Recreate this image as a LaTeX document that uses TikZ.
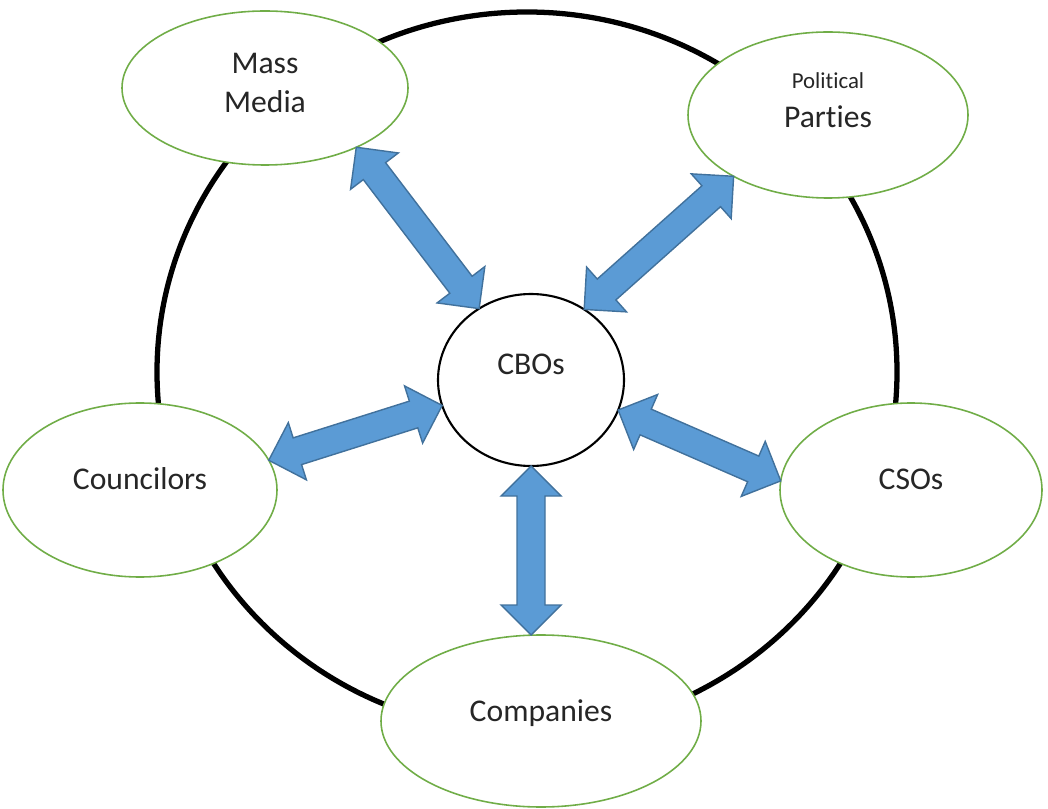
\documentclass[tikz,border=0pt]{standalone}
\usepackage{fontspec}
\setmainfont{Carlito}[Ligatures=NoCommon]
\usetikzlibrary{shapes.geometric,calc}

\definecolor{leafgreen}{HTML}{70AD47}
\definecolor{linkblue}{HTML}{5B9BD5}
\definecolor{linkedge}{HTML}{41719C}

% broad two-headed block arrow between two points
\newcommand{\twoway}[2]{%
  \coordinate (h1) at ($(#1)!0.6cm!(#2)$);
  \coordinate (h2) at ($(#2)!0.6cm!(#1)$);
  \filldraw[link] (#1) -- ($(h1)!0.6cm!90:(#2)$) -- ($(h1)!0.28cm!90:(#2)$)
    -- ($(h2)!0.28cm!-90:(#1)$) -- ($(h2)!0.6cm!-90:(#1)$) -- (#2)
    -- ($(h2)!0.6cm!90:(#1)$) -- ($(h2)!0.28cm!90:(#1)$)
    -- ($(h1)!0.28cm!-90:(#2)$) -- ($(h1)!0.6cm!-90:(#2)$) -- cycle;}

\begin{document}
\begin{tikzpicture}[
  ring/.style={ellipse, draw, line width=3pt, minimum width=14.8cm, minimum height=14.4cm},
  actor/.style={ellipse, draw=leafgreen, line width=0.9pt, fill=white, inner sep=0pt,
    outer sep=0pt, text=black!85, align=center, font=\fontsize{18}{22}\selectfont},
  oneline/.style={text height=12pt, text depth=12pt},
  hub/.style={ellipse, draw, line width=1.2pt, fill=white, inner sep=0pt, outer sep=0pt,
    text=black!85, font=\fontsize{18}{22}\selectfont, text height=12pt, text depth=18pt},
  link/.style={fill=linkblue, draw=linkedge, line width=0.8pt, line join=miter}]
\useasboundingbox (0,0) rectangle (20.96,16.16);

\node[ring] (ring) at (10.54,8.72) {};

\node[hub, minimum width=3.72cm, minimum height=3.44cm] (cbo) at (10.62,8.56) {CBOs};

\node[actor, minimum width=5.72cm, minimum height=3.08cm, text depth=6pt]
  (media) at (5.30,14.40) {Mass\\Media};
\node[actor, minimum width=5.60cm, minimum height=3.32cm, text depth=17pt]
  (parties) at (16.56,13.86) {{\fontsize{13}{15}\selectfont Political}\\Parties};
\node[actor, oneline, minimum width=5.48cm, minimum height=3.48cm]
  (councilors) at (2.80,6.36) {Councilors};
\node[actor, oneline, minimum width=5.24cm, minimum height=3.48cm]
  (csos) at (18.22,6.36) {CSOs};
\node[actor, oneline, minimum width=6.40cm, minimum height=3.44cm]
  (companies) at (10.82,1.74) {Companies};

\coordinate (comptop) at (companies.north -| cbo.south);

\twoway{media.-33}{cbo.126}
\twoway{parties.213}{cbo.53}
\twoway{councilors.13}{cbo.196}
\twoway{csos.176}{cbo.-19}
\twoway{cbo.south}{comptop}

\end{tikzpicture}
\end{document}
